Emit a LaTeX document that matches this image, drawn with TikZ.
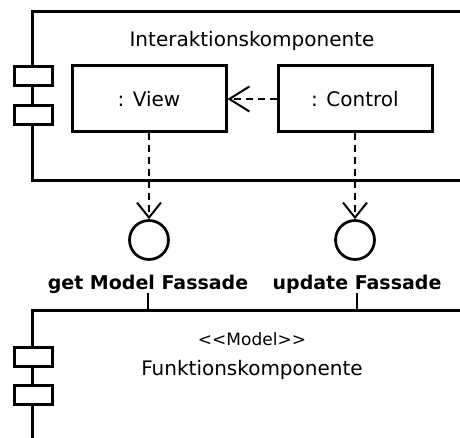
\documentclass[tikz,border=0pt]{standalone}
\usepackage{fontspec}
\setmainfont{DejaVu Sans}
\usetikzlibrary{arrows.meta}
\begin{document}
\begin{tikzpicture}[x=1pt,y=-1pt,
  comp/.style={line width=3pt},
  part/.style={draw, line width=3pt, minimum width=154pt, minimum height=66pt, inner sep=0pt, font=\fontsize{20}{24}\selectfont},
  tab/.style={draw, fill=white, line width=3pt},
  iface/.style={draw, circle, line width=2.7pt, minimum size=39pt, inner sep=0pt},
  dep/.style={dash pattern=on 7pt off 5pt, line width=1.6pt},
  txt/.style={inner sep=0pt, font=\fontsize{20}{24}\selectfont},
  lbl/.style={inner sep=0pt, font=\fontsize{19}{23}\selectfont\bfseries},
  stereo/.style={inner sep=0pt, font=\fontsize{17}{20}\selectfont},
  link/.style={line width=1.5pt}
]
\clip (0,0) rectangle (460,438);
\fill[white] (0,0) rectangle (460,438);
% upper component
\draw[comp] (32,12) rectangle (480,181);
\draw[tab] (14,67) rectangle (52,86);
\draw[tab] (14,106) rectangle (52,125);
\node[txt, anchor=base] (title1) at (252,47) {Interaktionskomponente};
% lower component
\draw[comp] (32,460) -- (32,310) -- (480,310);
\draw[tab] (14,347) rectangle (52,366);
\draw[tab] (14,385) rectangle (52,404);
\coordinate (mtop1) at (148,310);
\coordinate (mtop2) at (357,310);
\node[stereo, anchor=base] (stereo) at (252,345) {<{}<Model>{}>};
\node[txt, anchor=base] (title2) at (252,375) {Funktionskomponente};
% parts
\node[part] (view) at (149,99) {: View};
\node[part] (control) at (355,99) {: Control};
% interfaces
\node[iface] (if1) at (149,240) {};
\node[iface] (if2) at (355,240) {};
\node[lbl, anchor=base] (l1) at (148,289) {get Model Fassade};
\node[lbl, anchor=base] (l2) at (357,289) {update Fassade};
% connectors
\draw[dep, -{Straight Barb[length=20pt, width=25pt, line width=2pt]}] (control.west) -- (view.east);
\draw[dep, -{Straight Barb[length=15pt, width=24pt, line width=2pt]}] (view.south) -- (if1.north);
\draw[dep, -{Straight Barb[length=15pt, width=24pt, line width=2pt]}] (control.south) -- (if2.north);
\draw[link] (l1.south) -- (mtop1);
\draw[link] (l2.south) -- (mtop2);
\end{tikzpicture}
\end{document}
